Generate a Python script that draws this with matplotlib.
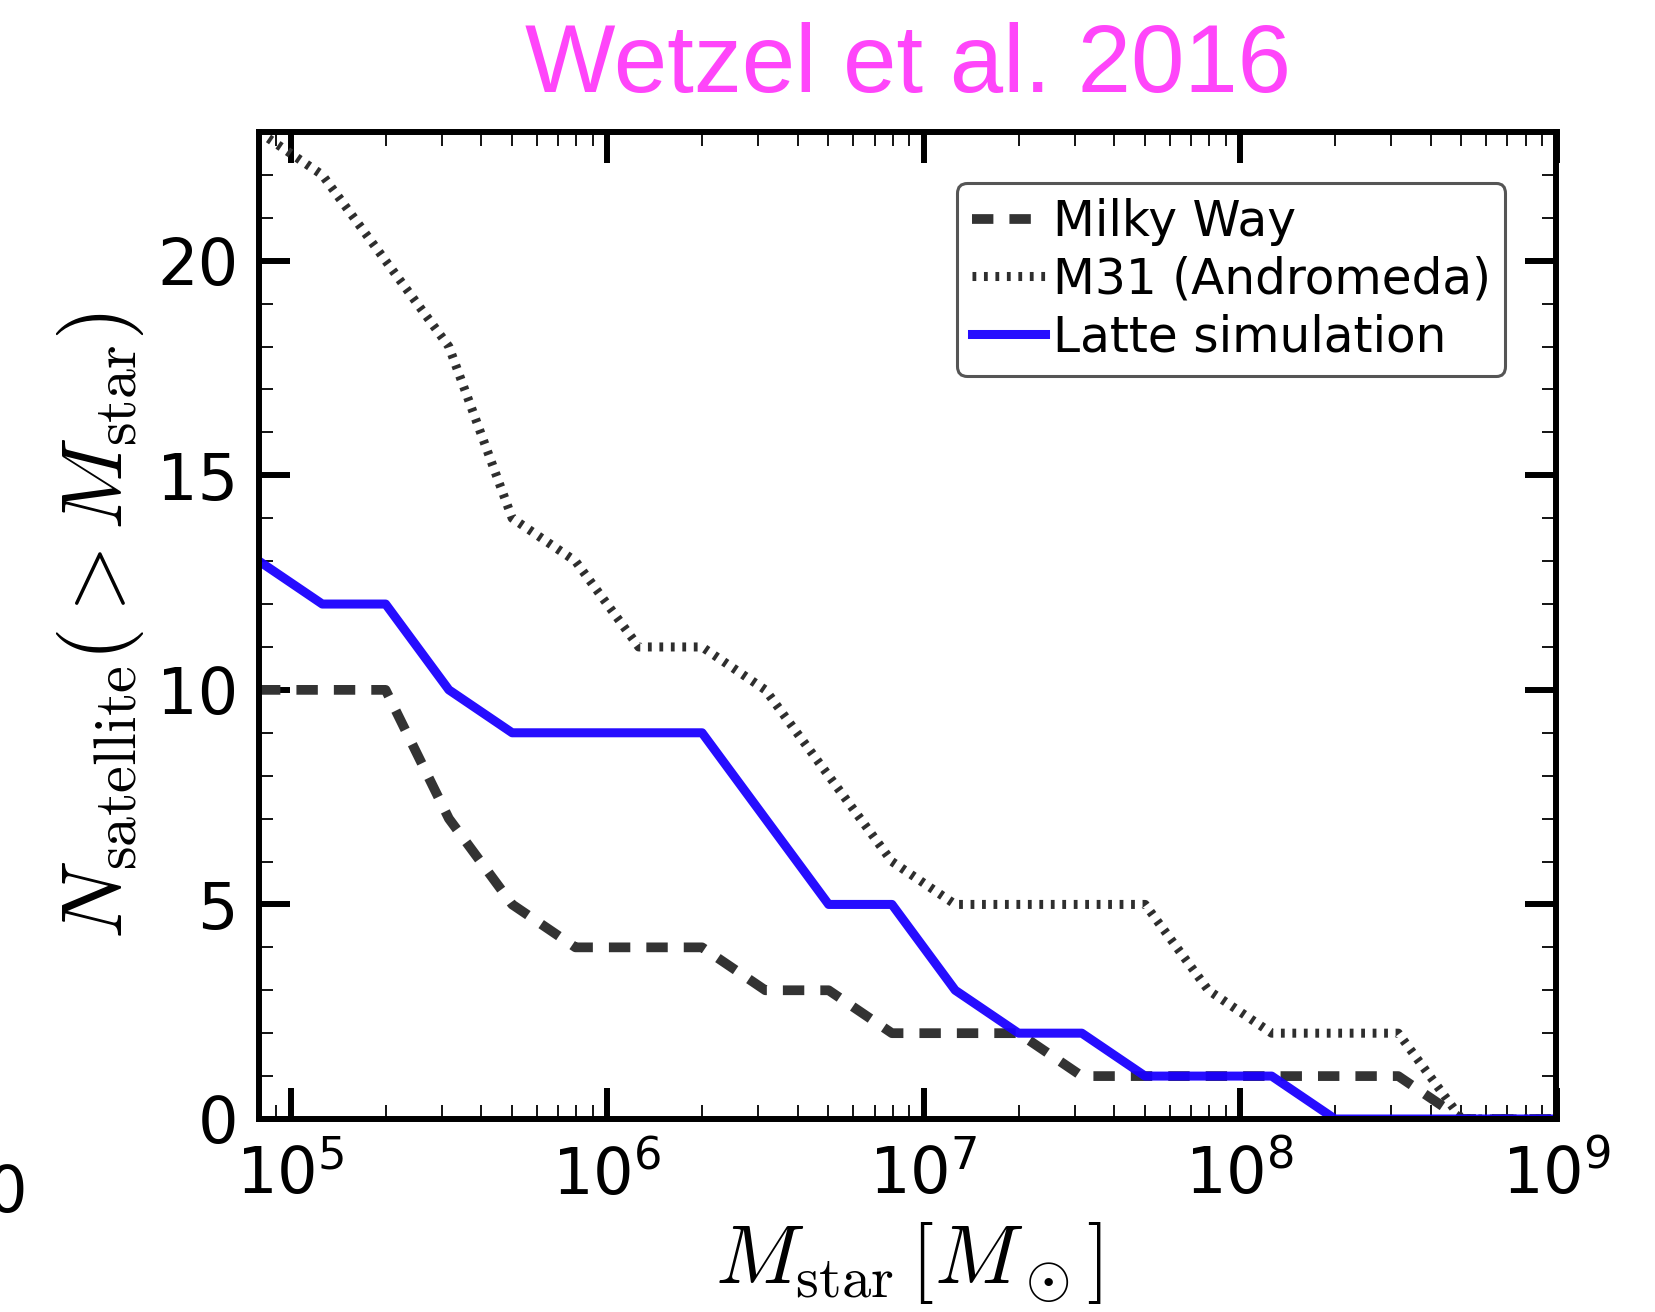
#!/usr/bin/env python
"""cumulative satellite stellar mass function: MW, M31 and Latte"""

import matplotlib
matplotlib.use("Agg")
from matplotlib import pyplot as plt
from matplotlib.ticker import MultipleLocator

plt.rcParams['mathtext.fontset'] = 'cm'
plt.rcParams['font.family'] = 'DejaVu Sans'

# log10 of stellar mass [Msun] where the counts are sampled
log_mstar = [4.9, 5.1, 5.3, 5.5, 5.7, 5.9, 6.1, 6.3, 6.5, 6.7, 6.9,
             7.1, 7.3, 7.5, 7.7, 7.9, 8.1, 8.3, 8.5, 8.7, 8.9, 9.1]

# number of satellites above each mass
n_milky_way = [10, 10, 10, 7, 5, 4, 4, 4, 3, 3, 2,
               2, 2, 1, 1, 1, 1, 1, 1, 0, 0, 0]
n_m31 = [23, 22, 20, 18, 14, 13, 11, 11, 10, 8, 6,
         5, 5, 5, 5, 3, 2, 2, 2, 0, 0, 0]
n_latte = [13, 12, 12, 10, 9, 9, 9, 9, 7, 5, 5,
           3, 2, 2, 1, 1, 1, 0, 0, 0, 0, 0]

labels = ['Milky Way', 'M31 (Andromeda)', 'Latte simulation']

mstar = [10 ** m for m in log_mstar]

fig = plt.figure(figsize=(16.55, 13.12), dpi=100)
ax = fig.add_axes([259 / 1655, 1 - 1119 / 1312, (1556.5 - 259) / 1655, (1119 - 132) / 1312])

ax.plot(mstar, n_milky_way, ls=(0, (2.2, 1.65)), lw=7, color='#333333', label=labels[0])
ax.plot(mstar, n_m31, ls=(0, (0.42, 0.85)), lw=6.5, color='#2e2e2e', label=labels[1])
ax.plot(mstar, n_latte, ls='-', lw=6.5, color='#1a00ff', alpha=0.95, label=labels[2])

ax.set_xscale('log')
ax.set_xlim(10 ** 4.9, 1e9)
ax.set_ylim(0, 23)
ax.yaxis.set_major_locator(MultipleLocator(5))
ax.yaxis.set_minor_locator(MultipleLocator(1))

for sp in ax.spines.values():
    sp.set_linewidth(4.3)

ax.tick_params(which='major', direction='in', length=22, width=4.3,
               top=True, right=True, labelsize=46)
ax.tick_params(which='minor', direction='in', length=10, width=1.3,
               top=True, right=True)
ax.tick_params(axis='x', which='major', pad=18)
ax.tick_params(axis='y', which='major', pad=15)

ax.set_xlabel(r'$M_{\rm star}\,[M_\odot]$', fontsize=60, labelpad=9)
ax.set_ylabel(r'$N_{\rm satellite}(>M_{\rm star})$', fontsize=62, labelpad=8)

ax.set_title('Wetzel et al. 2016', color='#ff45fa', fontsize=69,
             family='Liberation Sans', pad=29)

leg = ax.legend(loc='upper right', fontsize=35, handlelength=1.5, handletextpad=0.17,
                labelspacing=0.2, borderpad=0.3, borderaxespad=1.05, fancybox=True,
                framealpha=1)
leg.get_frame().set_edgecolor('#555555')
leg.get_frame().set_linewidth(2.2)

# tick label of the neighbouring panel, cut off at the left edge
fig.text(7 / 1655, 1 - 1212 / 1312, '0', fontsize=46, ha='center', va='baseline')

fig.savefig('out.png', dpi=100)
